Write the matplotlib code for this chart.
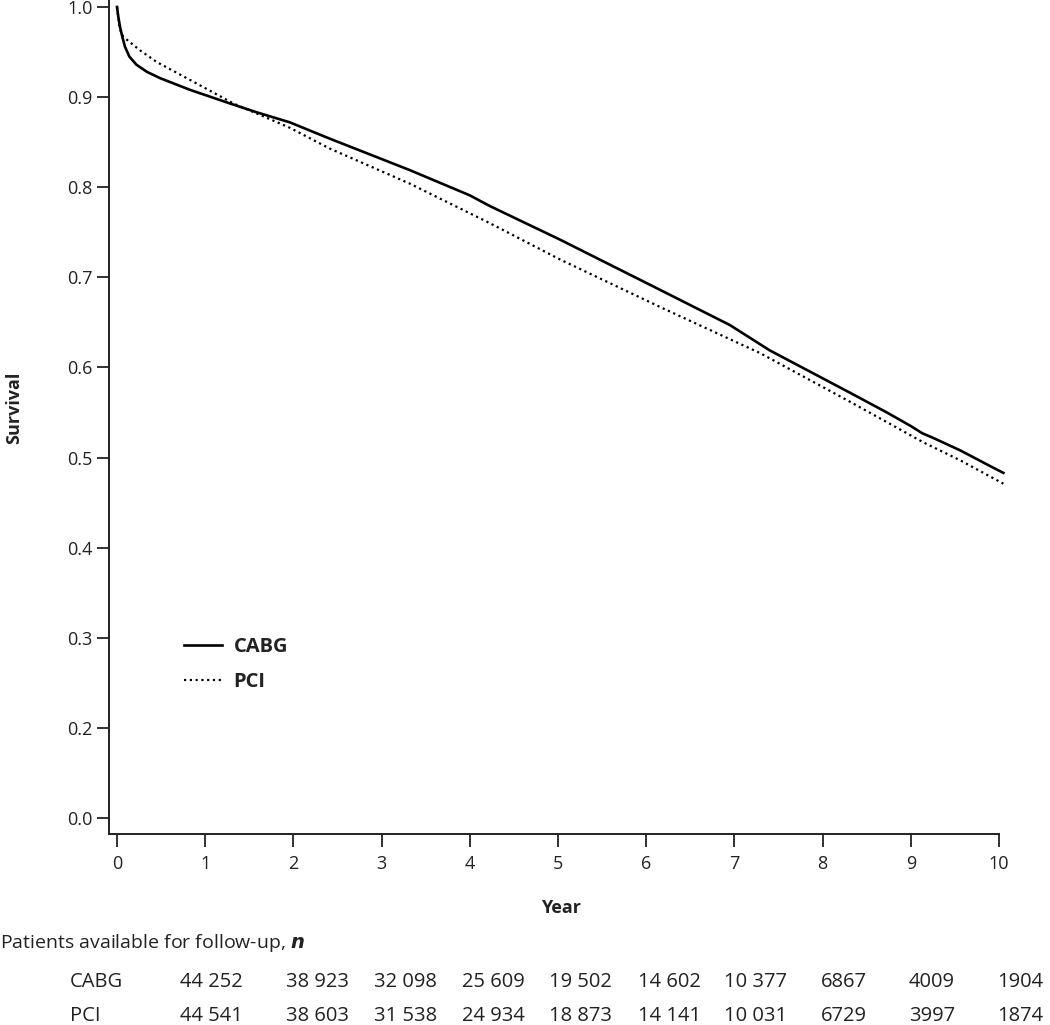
import matplotlib
matplotlib.use('Agg')
import matplotlib.pyplot as plt
import matplotlib.transforms as mtransforms

plt.rcParams['font.family'] = ['Open Sans', 'DejaVu Sans']

# survival curves (year, survival)
cabg_t = [0, 0.015, 0.034, 0.06, 0.09, 0.14, 0.22, 0.34, 0.49, 0.83, 1.28, 1.59, 1.96, 2.41, 3.32,
          4.0, 4.23, 5.02, 6.16, 6.95, 7.40, 8.31, 8.73, 9.0, 9.13, 9.25, 9.56, 9.93, 10.05]
cabg_s = [1.0, 0.989, 0.978, 0.967, 0.956, 0.945, 0.936, 0.928, 0.921, 0.908, 0.893, 0.883, 0.872, 0.854, 0.819,
          0.791, 0.779, 0.742, 0.686, 0.647, 0.619, 0.572, 0.550, 0.535, 0.527, 0.522, 0.508, 0.489, 0.483]
pci_t = [0, 0.03, 0.07, 0.26, 0.45, 0.83, 1.32, 1.96, 2.41, 3.32, 4.23, 5.02, 6.16, 7.29,
         8.31, 9.14, 9.56, 10.05]
pci_s = [1.0, 0.976, 0.967, 0.952, 0.939, 0.919, 0.893, 0.866, 0.843, 0.804, 0.760, 0.720, 0.667, 0.616,
         0.562, 0.517, 0.497, 0.471]

# numbers at risk
years = list(range(11))
cabg_n = ['44 252', '38 923', '32 098', '25 609', '19 502', '14 602', '10 377', '6867', '4009', '1904']
pci_n = ['44 541', '38 603', '31 538', '24 934', '18 873', '14 141', '10 031', '6729', '3997', '1874']
col_x = [1.07, 2.27, 3.27, 4.27, 5.26, 6.26, 7.24, 8.24, 9.24, 10.24]

# y axis is drawn with a break: the lowest tick sits one step below 0.2 but reads 0.0
yticks = [0.1, 0.2, 0.3, 0.4, 0.5, 0.6, 0.7, 0.8, 0.9, 1.0]
ylabels = ['0.0', '0.2', '0.3', '0.4', '0.5', '0.6', '0.7', '0.8', '0.9', '1.0']

ink = '#222222'

fig = plt.figure(figsize=(10.5, 10.25), dpi=100)
ax = fig.add_axes([0.1038, 0.1863, 0.8476, 0.8137])

ax.plot(cabg_t, cabg_s, color='black', lw=1.9, label='CABG', clip_on=False)
ax.plot(pci_t, pci_s, color='black', lw=1.6, linestyle=(0, (1, 1.6)), label='PCI', clip_on=False)

ax.set_xlim(-0.091, 10)
ax.set_ylim(0.0822, 1.0078)
ax.set_xticks(years)
ax.set_yticks(yticks)
ax.set_yticklabels(ylabels)

for s in ['top', 'right']:
    ax.spines[s].set_visible(False)
for s in ['left', 'bottom']:
    ax.spines[s].set_linewidth(1.4)
    ax.spines[s].set_color(ink)
ax.tick_params(axis='both', length=9, width=1.3, color=ink, labelsize=13, labelcolor=ink)
ax.tick_params(axis='x', pad=6)
ax.tick_params(axis='y', pad=3)

leg = ax.legend(loc='upper left', bbox_to_anchor=(0.064, 0.258), frameon=False,
                handlelength=1.9, handletextpad=0.55, labelspacing=0.75,
                prop={'size': 14.5, 'weight': 'bold'})
for t in leg.get_texts():
    t.set_color(ink)

fig.text(14 / 1050, 1 - 408 / 1025, 'Survival', rotation=90, ha='center', va='center',
         fontsize=13, fontweight='bold', color=ink)
fig.text(561 / 1050, 1 - 908 / 1025, 'Year', ha='center', va='center',
         fontsize=13, fontweight='bold', color=ink)

fig.text(0.0, 1 - 943 / 1025, 'Patients available for follow-up, $\\boldsymbol{n}$',
         ha='left', va='center', fontsize=14, color=ink)

trans = mtransforms.blended_transform_factory(ax.transData, fig.transFigure)
rows = [('CABG', cabg_n, 982), ('PCI', pci_n, 1016)]
for name, vals, ypx in rows:
    yf = 1 - ypx / 1025
    fig.text(70 / 1050, yf, name, ha='left', va='center', fontsize=14.5, color=ink)
    for x, v in zip(col_x, vals):
        ax.text(x, yf, v, transform=trans, ha='center', va='center', fontsize=14.5, color=ink)

plt.savefig('out.png', dpi=100)
